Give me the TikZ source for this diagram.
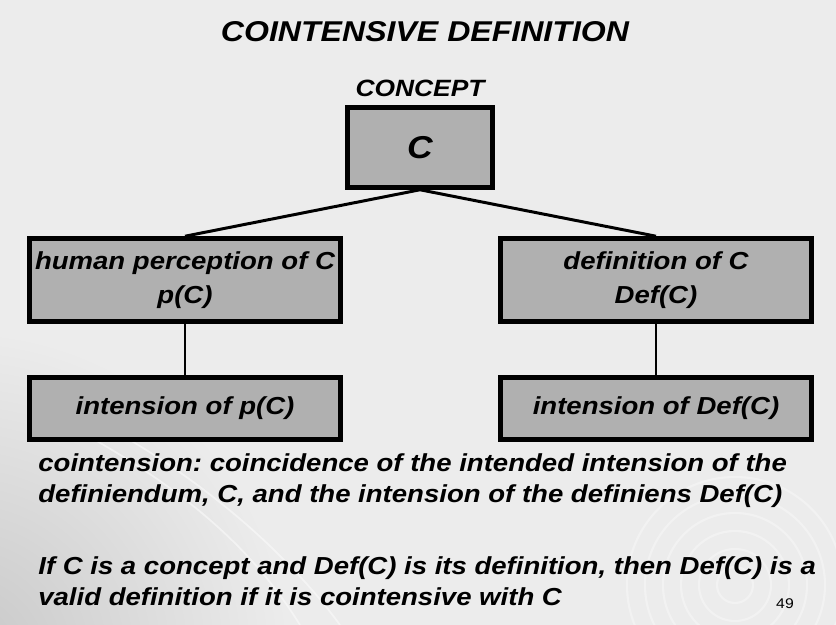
\documentclass[tikz,border=0pt]{standalone}
\usepackage{fontspec}
\usetikzlibrary{positioning}
\newfontfamily\slidefont{Liberation Sans}[FakeStretch=1.12]
\definecolor{slidebg}{RGB}{236,236,236}
\definecolor{boxgray}{RGB}{176,176,176}
\definecolor{swirl}{RGB}{250,250,250}
\frenchspacing
\begin{document}
\begin{tikzpicture}[x=0.02cm, y=-0.02cm,
    every node/.style={inner sep=0pt},
    titletext/.style={font=\slidefont\bfseries\itshape\fontsize{16.3}{19}\selectfont},
    bodytext/.style={font=\slidefont\bfseries\itshape\fontsize{14}{19.3}\selectfont},
    paratext/.style={font=\slidefont\bfseries\itshape\fontsize{14}{17.6}\selectfont, align=left, anchor=north west},
    box/.style={draw, rectangle, fill=boxgray, line width=2.6pt, minimum width=6.22cm, align=center, bodytext},
    link/.style={line width=1.7pt},
    stem/.style={line width=1.1pt}]
    % Background
    \useasboundingbox (0,0) rectangle (836,625);
    \fill[slidebg] (0,0) rectangle (836,625);
    \begin{scope}
      \clip (0,0) rectangle (836,625);
      \shade[inner color=black!22, outer color=slidebg] (-40,660) circle (330);
      \foreach \r in {18,36,54,72,90,108}
        \draw[swirl, line width=1.2pt, opacity=0.45] (735,585) circle (\r);
      \draw[swirl, line width=1pt, opacity=0.6] (95,440) .. controls (200,500) and (260,560) .. (300,625);
      \draw[swirl, line width=1pt, opacity=0.6] (130,440) .. controls (230,500) and (300,570) .. (340,625);
    \end{scope}
    % Nodes
    \node (title) [titletext, anchor=base] at (425,42) {COINTENSIVE DEFINITION};
    \node (c) [draw, rectangle, fill=boxgray, line width=2.6pt, minimum width=2.9cm, minimum height=1.6cm,
      font=\slidefont\bfseries\itshape\fontsize{18}{20}\selectfont] at (420,147.5) {C};
    \node (concept) [above=0.16cm of c, font=\slidefont\bfseries\itshape\fontsize{13.4}{15}\selectfont] {CONCEPT};
    \node (hpc) [box, minimum height=1.66cm] at (185,280) {human perception of C\\p(C)};
    \node (defc) [box, minimum height=1.66cm] at (656,280) {definition of C\\Def(C)};
    \node (ihpc) [box, minimum height=1.24cm] at (185,408.5) {intension of p(C)};
    \node (idefc) [box, minimum height=1.24cm] at (656,408.5) {intension of Def(C)};
    % Text
    \node (cointension) [paratext] at (38,453)
      {cointension: coincidence of the intended intension of the\\
       definiendum, C, and the intension of the definiens Def(C)};
    \node (validity) [paratext] at (38,556)
      {If C is a concept and Def(C) is its definition, then Def(C) is a\\
       valid definition if it is cointensive with C};
    \node (page) [font=\slidefont\fontsize{8}{9}\selectfont, anchor=base] at (785,608) {49};
    % Lines
    \draw[link] (c.south) -- (hpc.north);
    \draw[link] (c.south) -- (defc.north);
    \draw[stem] (hpc) -- (ihpc);
    \draw[stem] (defc) -- (idefc);
  \end{tikzpicture}
\end{document}
